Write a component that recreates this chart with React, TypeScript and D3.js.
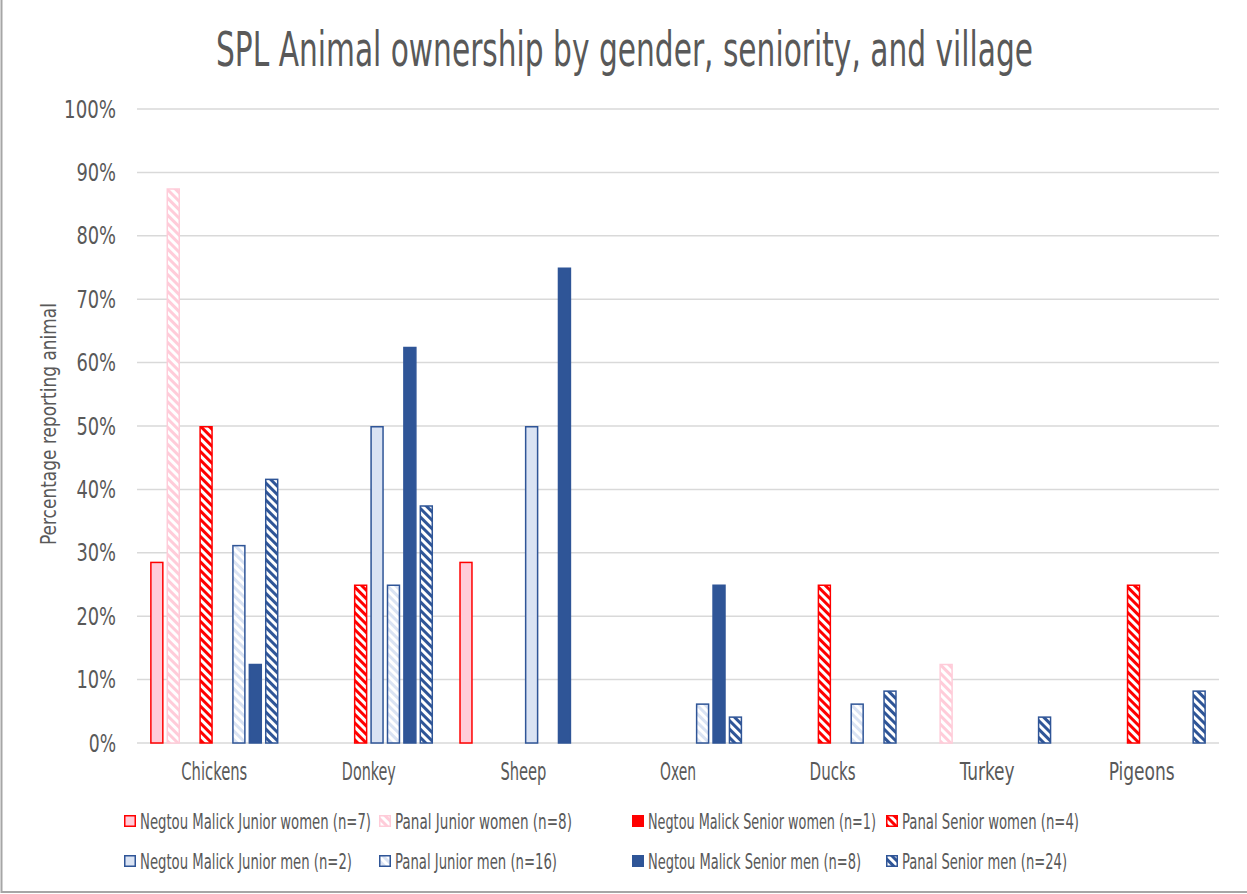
import React from "react";
import * as d3 from "d3";

const categories = ["Chickens", "Donkey", "Sheep", "Oxen", "Ducks", "Turkey", "Pigeons"];

const seriesNames = [
  "Negtou Malick Junior women (n=7)",
  "Panal Junior women (n=8)",
  "Negtou Malick Senior women (n=1)",
  "Panal Senior women (n=4)",
  "Negtou Malick Junior men (n=2)",
  "Panal Junior men (n=16)",
  "Negtou Malick Senior men (n=8)",
  "Panal Senior men (n=24)",
];

// percent per category, same order as categories
const njWomen = [28.6, 0, 28.6, 0, 0, 0, 0];
const pjWomen = [87.5, 0, 0, 0, 0, 12.5, 0];
const nsWomen = [0, 0, 0, 0, 0, 0, 0];
const psWomen = [50, 25, 0, 0, 25, 0, 25];
const njMen = [0, 50, 50, 0, 0, 0, 0];
const pjMen = [31.25, 25, 0, 6.25, 6.25, 0, 0];
const nsMen = [12.5, 62.5, 75, 25, 0, 0, 0];
const psMen = [41.7, 37.5, 0, 4.2, 8.3, 4.2, 8.3];

const seriesValues = [njWomen, pjWomen, nsWomen, psWomen, njMen, pjMen, nsMen, psMen];
const yTicks = [0, 10, 20, 30, 40, 50, 60, 70, 80, 90, 100];

const RED = "#FF0000";
const PINK = "#FFCCD9";
const BLUE = "#2F5597";
const LBLUE = "#DAE3F3";
const TXT = "#595959";
const FONT = "'DejaVu Sans Condensed', 'DejaVu Sans', sans-serif";

// fill / stroke for each series
const styles = [
  { fill: PINK, stroke: RED },
  { fill: "url(#hPink)", stroke: PINK },
  { fill: RED, stroke: RED },
  { fill: "url(#hRed)", stroke: RED },
  { fill: LBLUE, stroke: BLUE },
  { fill: "url(#hLBlue)", stroke: BLUE },
  { fill: BLUE, stroke: BLUE },
  { fill: "url(#hBlue)", stroke: BLUE },
];

// the original uses a very narrow face, so texts are squeezed to its widths
const legendWidths = [231, 177, 228, 177, 212, 162, 213, 165];
const catWidths = [66, 54, 46, 36, 46, 55, 66];

const Hatch = ({ id, color }: { id: string; color: string }) => (
  <pattern id={id} patternUnits="userSpaceOnUse" width={6} height={6} patternTransform="rotate(-45)">
    <rect width={6} height={6} fill="#fff" />
    <rect width={3} height={6} fill={color} />
  </pattern>
);

export default function App() {
  const width = 1247;
  const height = 894;
  const x0 = d3.scaleBand().domain(categories).range([137, 1219]);
  const x1 = d3
    .scaleBand<number>()
    .domain(d3.range(seriesNames.length))
    .range([0, x0.bandwidth()])
    .paddingInner(0.18)
    .paddingOuter(0.8);
  const y = d3.scaleLinear().domain([0, 100]).range([743, 109]);

  const legendX = [124, 379, 632, 886];
  const legendY = [821, 861];

  return (
    <svg
      width={width}
      height={height}
      style={{ position: "absolute", left: 0, top: 0, fontStretch: "condensed" }}
      fontFamily={FONT}
    >
      <defs>
        <Hatch id="hPink" color={PINK} />
        <Hatch id="hRed" color={RED} />
        <Hatch id="hLBlue" color={LBLUE} />
        <Hatch id="hBlue" color={BLUE} />
      </defs>
      <rect x={0} y={0} width={width} height={height} fill="#fff" />
      <rect x={1.5} y={-3} width={width + 5} height={895} fill="none" stroke="#A6A6A6" strokeWidth={2} />

      <text x={216} y={66} fontSize={48} fill={TXT} textLength={817} lengthAdjust="spacingAndGlyphs">
        SPL Animal ownership by gender, seniority, and village
      </text>

      {yTicks.map((t) => {
        const label = `${t}%`;
        return (
          <g key={t}>
            <line x1={137} x2={1219} y1={y(t)} y2={y(t)} stroke="#D9D9D9" strokeWidth={1.5} />
            <text
              x={116}
              y={y(t) + 8.5}
              textAnchor="end"
              fontSize={24}
              fill={TXT}
              textLength={(label.length - 1) * 12.3 + 15}
              lengthAdjust="spacingAndGlyphs"
            >
              {label}
            </text>
          </g>
        );
      })}

      <text
        transform={`translate(56,424) rotate(-90)`}
        textAnchor="middle"
        fontSize={22}
        fill={TXT}
        textLength={242}
        lengthAdjust="spacingAndGlyphs"
      >
        Percentage reporting animal
      </text>

      {categories.map((c, ci) => (
        <g key={c} transform={`translate(${x0(c)},0)`}>
          {seriesValues.map((vals, si) =>
            vals[ci] > 0 ? (
              <rect
                key={si}
                x={(x1(si) as number) + 0.75}
                y={y(vals[ci]) + 0.75}
                width={x1.bandwidth() - 1.5}
                height={y(0) - y(vals[ci]) - 0.75}
                fill={styles[si].fill}
                stroke={styles[si].stroke}
                strokeWidth={1.5}
              />
            ) : null
          )}
          <text
            x={x0.bandwidth() / 2 - catWidths[ci] / 2}
            y={780}
            fontSize={25}
            fill={TXT}
            textLength={catWidths[ci]}
            lengthAdjust="spacingAndGlyphs"
          >
            {c}
          </text>
        </g>
      ))}

      {seriesNames.map((name, i) => {
        const lx = legendX[i % 4];
        const ly = legendY[Math.floor(i / 4)];
        return (
          <g key={name}>
            <rect x={lx + 0.75} y={ly - 5.25} width={10.5} height={10.5} fill={styles[i].fill} stroke={styles[i].stroke} strokeWidth={1.5} />
            <text
              x={lx + 16}
              y={ly + 8}
              fontSize={21}
              fill={TXT}
              textLength={legendWidths[i]}
              lengthAdjust="spacingAndGlyphs"
            >
              {name}
            </text>
          </g>
        );
      })}
    </svg>
  );
}
